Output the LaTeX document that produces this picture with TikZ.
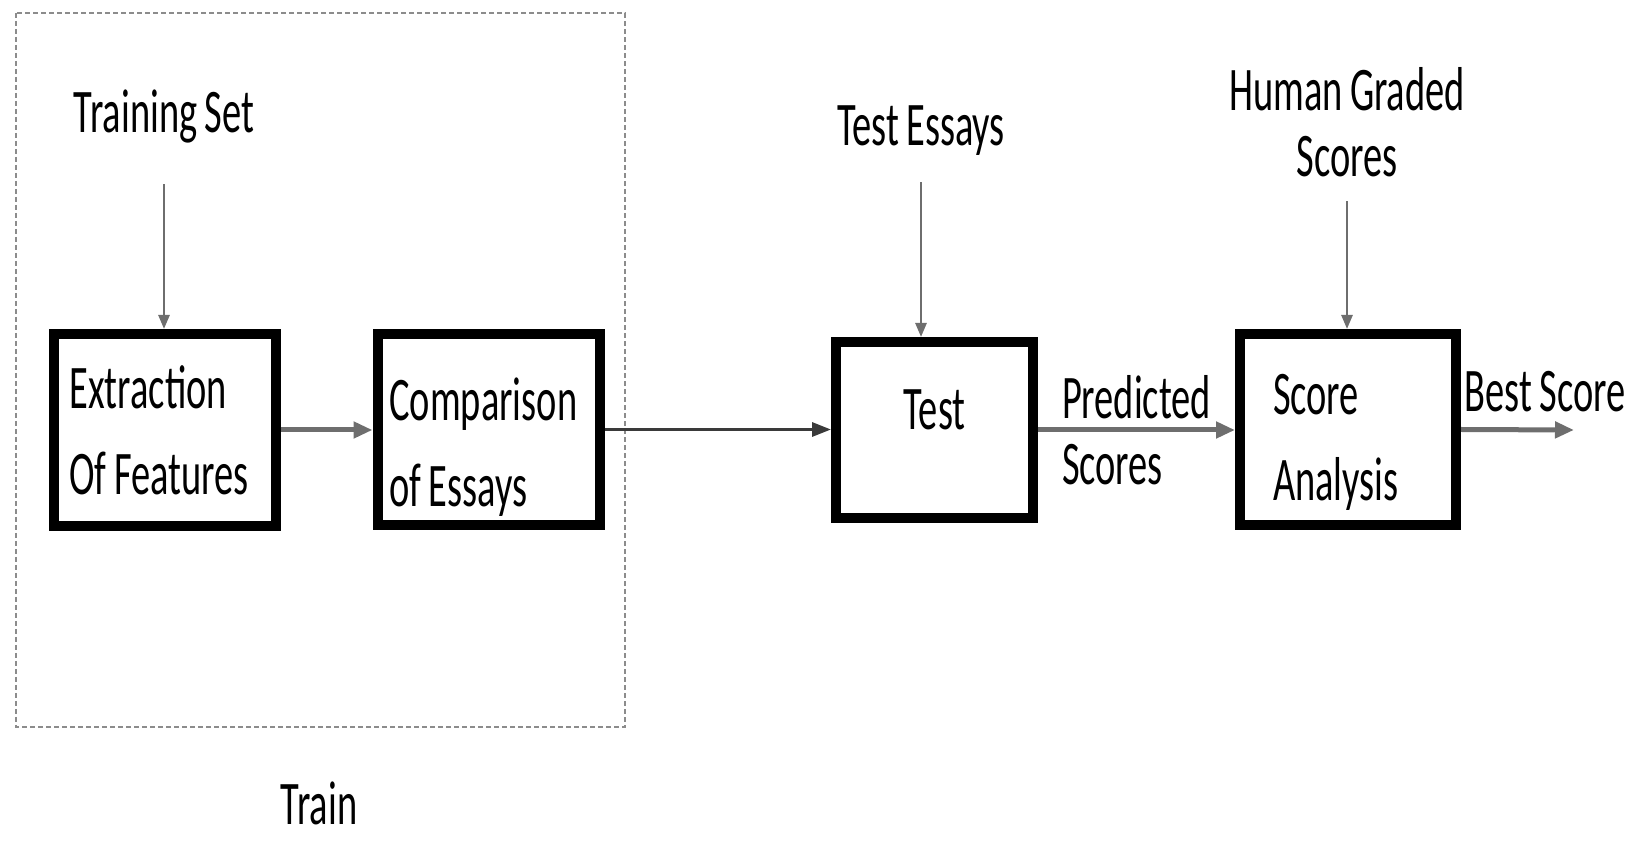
\documentclass[tikz,border=0pt]{standalone}
\usepackage{fontspec}
\setmainfont[FakeStretch=0.62, WordSpace=0.85]{Carlito}
\usepackage{xcolor}
\usepackage{tikz}
\usetikzlibrary{arrows.meta}

\definecolor{ArrowGray}{HTML}{6E6E6E}
\definecolor{LineDark}{HTML}{3A3A3A}
\definecolor{FrameGray}{HTML}{8C8C8C}

\begin{document}
\begin{tikzpicture}[x=0.5pt, y=-0.5pt,
	box/.style={draw, line width=5pt, rectangle, inner ysep=0pt, align=left, font=\fontsize{31}{43}\selectfont,
		execute at begin node={\spaceskip=0pt\xspaceskip=0pt}},
	lbl/.style={inner sep=0pt, align=center, font=\fontsize{31}{33}\selectfont},
	arr/.style={draw=ArrowGray, line width=2.5pt, -{Triangle[length=9.5pt, width=8pt]}},
	darkarr/.style={draw=LineDark, line width=1.6pt, -{Triangle[length=9.5pt, width=7pt]}},
	feed/.style={draw=ArrowGray, line width=1.3pt, -{Triangle[length=7pt, width=5.5pt]}}]
	\path (0,0) to (1640,849);

	\draw[FrameGray, line width=1.3pt, dash pattern=on 2.5pt off 1.5pt] (16,13) rectangle (625,727);

	\node[box, minimum height=96pt, text width=95pt, inner xsep=8pt] (extract) at (164.5,430) {Extraction\\Of Features};
	\node[box, minimum height=95.5pt, text width=99pt, inner xsep=6pt] (compare) at (488.5,429.5) {\rule{0pt}{39pt}Comparison\\of Essays};
	\node[box, minimum width=98.5pt, minimum height=88pt, align=center] (test) at (934.5,430) {\raisebox{0pt}[0pt][0pt]{Test}};
	\node[box, minimum height=95.5pt, text width=75pt, inner xsep=16.5pt] (score) at (1348,429.5) {\rule{0pt}{33pt}Score\\Analysis};

	\node[lbl] (trainset) at (164,117) {Training Set};
	\node[lbl] (testessays) at (921,131) {Test Essays};
	\node[lbl] (humanscores) at (1347,122) {Human Graded\\Scores};
	\node[lbl] (bestscore) at (1545,392) {Best Score};
	\node[lbl] (train) at (319,803) {Train};
	\coordinate (bestend) at (1574,430);

	\draw[feed, shorten <=20pt] (trainset.south) -- (trainset.south |- extract.north);
	\draw[feed, shorten <=13pt] (testessays.south) -- (testessays.south |- test.north);
	\draw[feed, shorten <=12pt] (humanscores.south) -- (humanscores.south |- score.north);

	\draw[arr] (extract.east) -- (extract.east -| compare.west);
	\draw[darkarr] (compare.east) -- (compare.east -| test.west);
	\draw[arr] (test.east) -- (test.east -| score.west) node[midway, lbl, align=left] (predicted) {Predicted\\Scores};
	\draw[arr] (score.east) -- (bestend);
\end{tikzpicture}
\end{document}
